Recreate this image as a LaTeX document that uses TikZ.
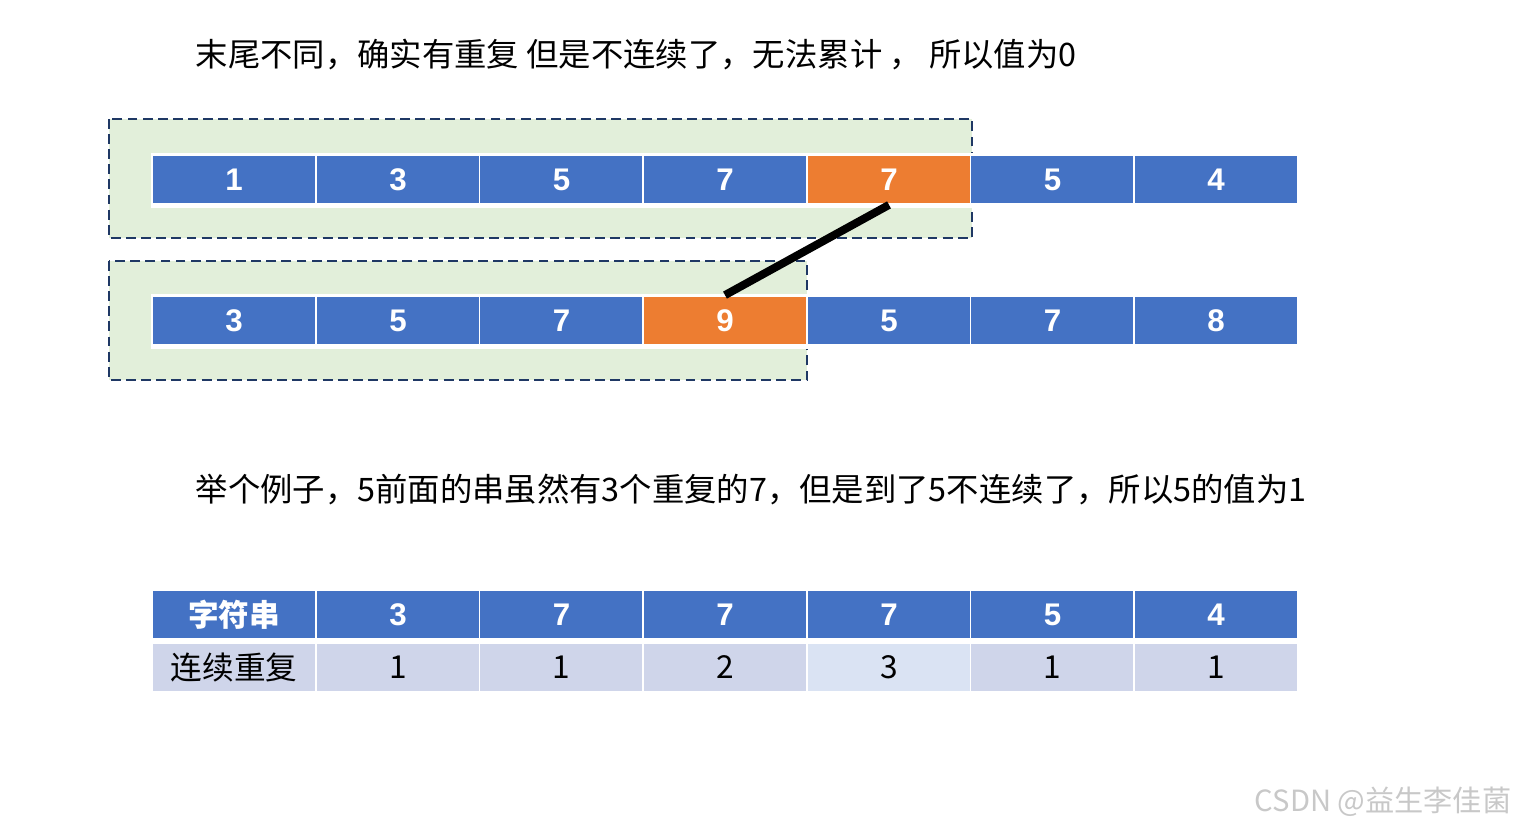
\documentclass[tikz,border=0pt]{standalone}
\usepackage{fontspec}
\setmainfont{Liberation Sans}
\newfontfamily\cjk{Noto Sans CJK SC}
\definecolor{cblue}{HTML}{4472C4}
\definecolor{corange}{HTML}{ED7D31}
\definecolor{cgreen}{HTML}{E2EFDA}
\definecolor{cnavy}{HTML}{1F3864}
\definecolor{crow}{HTML}{CFD5EA}
\definecolor{crowlight}{HTML}{DAE3F3}
\definecolor{cwm}{HTML}{C8C8C8}
\tikzset{
  cell/.style={minimum width=1.64cm, minimum height=0.49cm, inner sep=0pt, draw=white, line width=0.5pt, fill=cblue, text=white, font=\fontsize{8.9}{10}\selectfont\bfseries},
  hot/.style={cell, fill=corange},
  hdr/.style={cell, font=\fontsize{8.7}{10}\selectfont\bfseries\cjk},
  val/.style={cell, fill=crow, text=black, font=\fontsize{9}{10}\selectfont\cjk},
  dbox/.style={draw=cnavy, fill=cgreen, line width=0.6pt, dash pattern=on 2.8pt off 1.5pt},
  caption/.style={anchor=west, inner sep=0pt, font=\fontsize{9.2}{11}\selectfont\cjk},
  link/.style={line width=0.08cm, black}
}
\begin{document}
\begin{tikzpicture}[x=0.01cm, y=-0.01cm]
\useasboundingbox (0,0) rectangle (1516,828);
% dashed green boxes
\draw[dbox] (109,119) rectangle (972,238);
\draw[dbox] (109,261) rectangle (807,380);
% white strips behind rows
\fill[white] (151,153) rectangle (1299,208);
\fill[white] (151,294) rectangle (1299,349);
% row a
\node[cell] (a1) at (234,179.5) {1};
\node[cell] (a2) at (398,179.5) {3};
\node[cell] (a3) at (561.5,179.5) {5};
\node[cell] (a4) at (725,179.5) {7};
\node[hot]  (a5) at (889,179.5) {7};
\node[cell] (a6) at (1052.5,179.5) {5};
\node[cell] (a7) at (1216,179.5) {4};
% row b
\node[cell] (b1) at (234,320.5) {3};
\node[cell] (b2) at (398,320.5) {5};
\node[cell] (b3) at (561.5,320.5) {7};
\node[hot]  (b4) at (725,320.5) {9};
\node[cell] (b5) at (889,320.5) {5};
\node[cell] (b6) at (1052.5,320.5) {7};
\node[cell] (b7) at (1216,320.5) {8};
% link
\draw[link] (a5.south) -- (b4.north);
% captions
\node[caption] (t1) at (195,55) {末尾不同，确实有重复 但是不连续了，无法累计 ， 所以值为0};
\node[caption] (t2) at (195,490) {举个例子，5前面的串虽然有3个重复的7，但是到了5不连续了，所以5的值为1};
% table
\node[hdr]  (h1) at (234,614.5) {字符串};
\node[cell] (h2) at (398,614.5) {3};
\node[cell] (h3) at (561.5,614.5) {7};
\node[cell] (h4) at (725,614.5) {7};
\node[cell] (h5) at (889,614.5) {7};
\node[cell] (h6) at (1052.5,614.5) {5};
\node[cell] (h7) at (1216,614.5) {4};
\node[val] (r1) at (234,667.5) {连续重复};
\node[val] (r2) at (398,667.5) {1};
\node[val] (r3) at (561.5,667.5) {1};
\node[val] (r4) at (725,667.5) {2};
\node[val, fill=crowlight] (r5) at (889,667.5) {3};
\node[val] (r6) at (1052.5,667.5) {1};
\node[val] (r7) at (1216,667.5) {1};
% watermark
\node[anchor=east, inner sep=0pt, text=cwm, font=\fontsize{8.3}{10}\selectfont\cjk] (wm) at (1512,802) {CSDN @益生李佳菌};
\end{tikzpicture}
\end{document}
